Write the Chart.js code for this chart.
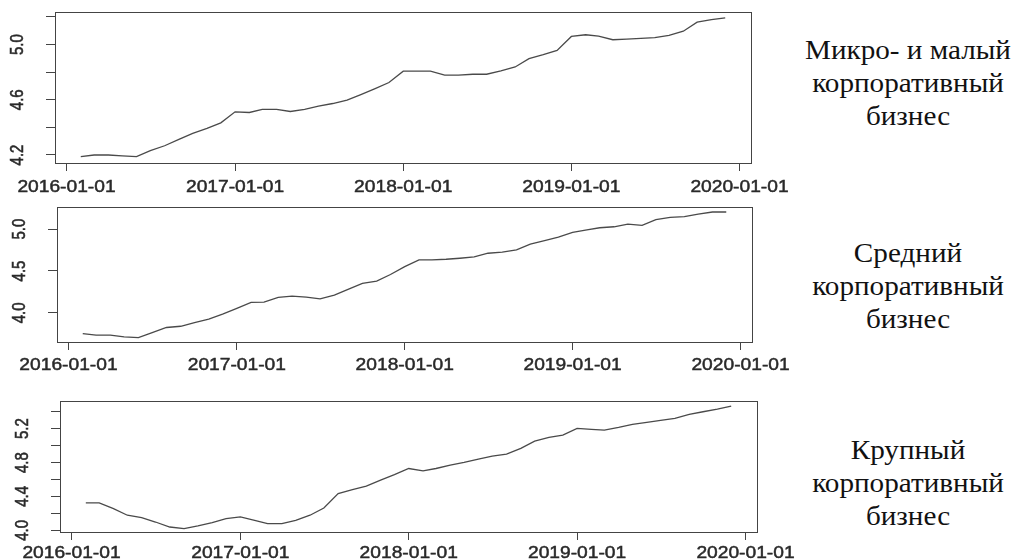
<!DOCTYPE html>
<html><head><meta charset="utf-8">
<script src="https://cdn.jsdelivr.net/npm/chart.js@4.4.0/dist/chart.umd.min.js"></script>
<style>
html,body{margin:0;padding:0;background:#fff;width:1013px;height:560px;overflow:hidden;position:relative;}
canvas{position:absolute;left:0;}
.lbl{position:absolute;left:808px;width:200px;text-align:center;font-family:'Liberation Serif','Times New Roman',serif;font-size:27px;line-height:33px;color:#111;transform:scaleX(1.08);transform-origin:center;white-space:nowrap;}
</style></head><body>
<canvas id="c1" width="800" height="195" style="top:0px;width:800px;height:195px"></canvas>
<canvas id="c2" width="800" height="190" style="top:195px;width:800px;height:190px"></canvas>
<canvas id="c3" width="800" height="175" style="top:385px;width:800px;height:175px"></canvas>
<div class="lbl" style="top:34px">Микро- и малый<br>корпоративный<br>бизнес</div>
<div class="lbl" style="top:237px">Средний<br>корпоративный<br>бизнес</div>
<div class="lbl" style="top:434px">Крупный<br>корпоративный<br>бизнес</div>
<script>
const months = [
  '2016-02-01','2016-03-01','2016-04-01','2016-05-01','2016-06-01','2016-07-01','2016-08-01','2016-09-01','2016-10-01','2016-11-01','2016-12-01',
  '2017-01-01','2017-02-01','2017-03-01','2017-04-01','2017-05-01','2017-06-01','2017-07-01','2017-08-01','2017-09-01','2017-10-01','2017-11-01','2017-12-01',
  '2018-01-01','2018-02-01','2018-03-01','2018-04-01','2018-05-01','2018-06-01','2018-07-01','2018-08-01','2018-09-01','2018-10-01','2018-11-01','2018-12-01',
  '2019-01-01','2019-02-01','2019-03-01','2019-04-01','2019-05-01','2019-06-01','2019-07-01','2019-08-01','2019-09-01','2019-10-01','2019-11-01','2019-12-01'
];
const microSmall = [
  4.188,4.200,4.200,4.193,4.188,4.231,4.267,4.313,4.357,4.393,4.433,
  4.513,4.508,4.530,4.530,4.515,4.530,4.554,4.573,4.597,4.638,4.681,4.725,
  4.807,4.807,4.807,4.778,4.778,4.785,4.785,4.809,4.838,4.898,4.927,4.958,
  5.059,5.071,5.061,5.035,5.040,5.045,5.050,5.066,5.097,5.162,5.180,5.194
];
const medium = [
  3.753,3.733,3.733,3.712,3.705,3.765,3.825,3.840,3.884,3.924,3.984,
  4.053,4.125,4.128,4.185,4.200,4.188,4.168,4.212,4.284,4.352,4.380,4.458,
  4.552,4.632,4.632,4.640,4.652,4.668,4.712,4.724,4.752,4.820,4.863,4.904,
  4.960,4.992,5.016,5.028,5.060,5.044,5.112,5.140,5.148,5.180,5.204,5.204
];
const large = [
  4.323,4.323,4.257,4.178,4.150,4.098,4.039,4.020,4.051,4.091,4.138,
  4.158,4.118,4.079,4.079,4.118,4.178,4.264,4.434,4.481,4.521,4.592,4.657,
  4.730,4.702,4.730,4.769,4.801,4.840,4.876,4.900,4.967,5.053,5.097,5.124,
  5.203,5.191,5.183,5.215,5.250,5.274,5.298,5.321,5.369,5.400,5.432,5.467
];
const xTickLabels = ['2016-01-01','2017-01-01','2018-01-01','2019-01-01','2020-01-01'];
const microTicks = [4.2,4.4,4.6,4.8,5.0,5.2];
const microTickLabels = [4.2,4.6,5.0];
const mediumTicks = [4.0,4.5,5.0];
const mediumTickLabels = [4.0,4.5,5.0];
const largeTicks = [4.0,4.2,4.4,4.6,4.8,5.0,5.2,5.4];
const largeTickLabels = [4.0,4.4,4.8,5.2];

const day = s => Date.UTC(+s.slice(0,4), +s.slice(5,7)-1, +s.slice(8,10)) / 86400000;
const first = day(months[0]), last = day(months[months.length-1]);
const xPad = 0.04 * (last - first);
const xMin = first - xPad, xMax = last + xPad;

const decor = {
  id: 'decor',
  afterDraw(chart, args, opts) {
    const {ctx, chartArea: a, scales: {x, y}} = chart;
    ctx.save();
    ctx.strokeStyle = '#444';
    ctx.lineWidth = 1;
    ctx.strokeRect(Math.round(a.left) + 0.5, Math.round(a.top) + 0.5, Math.round(a.right - a.left), Math.round(a.bottom - a.top));
    ctx.fillStyle = '#2a2a2a';
    ctx.strokeStyle = '#2a2a2a';
    ctx.lineWidth = 0.45;
    ctx.textAlign = 'center';
    ctx.textBaseline = 'middle';
    ctx.font = '16px "Liberation Sans", Arial, sans-serif';
    xTickLabels.forEach(s => {
      const px = x.getPixelForValue(day(s));
      ctx.save();
      ctx.translate(px, a.bottom + opts.xLabelOffset);
      ctx.scale(1.2, 1);
      ctx.fillText(s, 0, 0);
      ctx.strokeText(s, 0, 0);
      ctx.restore();
    });
    ctx.font = '15px "Liberation Sans", Arial, sans-serif';
    opts.yLabels.forEach(v => {
      const py = y.getPixelForValue(v);
      const t = v.toFixed(1);
      ctx.save();
      ctx.translate(a.left - 37, py);
      ctx.scale(1.2, 1);
      ctx.rotate(-Math.PI / 2);
      ctx.fillText(t, 0, 0);
      ctx.strokeText(t, 0, 0);
      ctx.restore();
    });
    ctx.restore();
  }
};

function makeChart(id, values, cfg) {
  const W = 800;
  new Chart(document.getElementById(id), {
    type: 'line',
    data: {
      datasets: [{
        data: months.map((m, i) => ({x: day(m), y: values[i]})),
        borderColor: '#4a4a4a',
        borderWidth: 1.3,
        pointRadius: 0,
        tension: 0,
        fill: false
      }]
    },
    options: {
      responsive: false,
      animation: false,
      events: [],
      layout: {padding: {left: 0, top: cfg.area.top, right: W - cfg.area.right, bottom: 0}},
      plugins: {legend: {display: false}, tooltip: {enabled: false}, decor: {xLabelOffset: cfg.xLabelOffset, yLabels: cfg.yLabels}},
      scales: {
        x: {
          type: 'linear', min: xMin, max: xMax,
          afterBuildTicks: s => { s.ticks = xTickLabels.map(t => ({value: day(t)})); },
          afterFit: s => { s.height = cfg.h - cfg.area.bottom; },
          ticks: {display: false},
          grid: {drawOnChartArea: false, drawTicks: true, tickLength: 8, color: '#444', lineWidth: 1},
          border: {display: false}
        },
        y: {
          type: 'linear', min: cfg.yMin, max: cfg.yMax,
          afterBuildTicks: s => { s.ticks = cfg.yTicks.map(v => ({value: v})); },
          afterFit: s => { s.width = cfg.area.left; },
          ticks: {display: false},
          grid: {drawOnChartArea: false, drawTicks: true, tickLength: 9, color: '#444', lineWidth: 1},
          border: {display: false}
        }
      }
    },
    plugins: [decor]
  });
}

makeChart('c1', microSmall, {h: 195, area: {left: 55, top: 12, right: 751, bottom: 163}, yMin: 4.142, yMax: 5.236, yTicks: microTicks, yLabels: microTickLabels, xLabelOffset: 25});
makeChart('c2', medium, {h: 190, area: {left: 57, top: 12, right: 752, bottom: 147}, yMin: 3.652, yMax: 5.264, yTicks: mediumTicks, yLabels: mediumTickLabels, xLabelOffset: 23.5});
makeChart('c3', large, {h: 175, area: {left: 60, top: 16, right: 757, bottom: 147}, yMin: 3.98, yMax: 5.527, yTicks: largeTicks, yLabels: largeTickLabels, xLabelOffset: 22});
</script>
</body></html>
